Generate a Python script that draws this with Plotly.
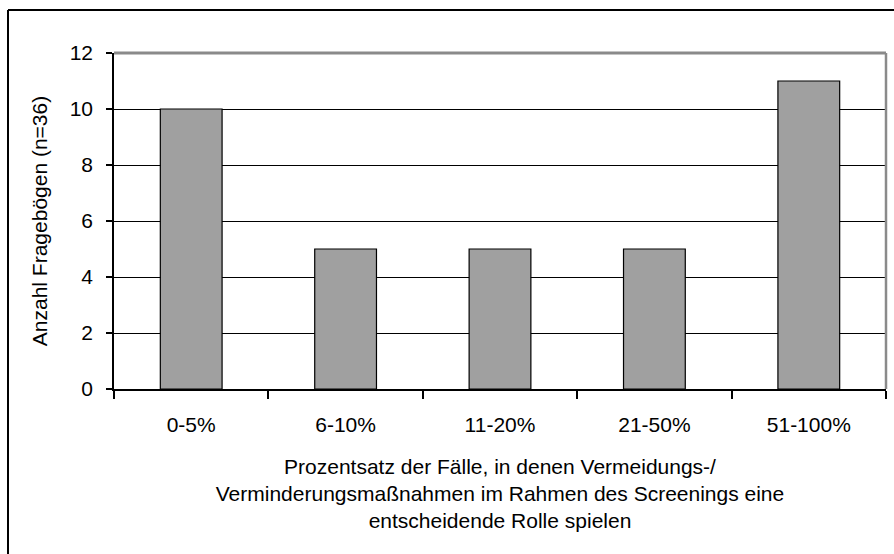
import plotly.graph_objects as go

categories = ["0-5%", "6-10%", "11-20%", "21-50%", "51-100%"]
counts = [10, 5, 5, 5, 11]
y_ticks = [0, 2, 4, 6, 8, 10, 12]
x_title = ("Prozentsatz der Fälle, in denen Vermeidungs-/<br>"
           "Verminderungsmaßnahmen im Rahmen des Screenings eine<br>"
           "entscheidende Rolle spielen")
y_title = "Anzahl Fragebögen (n=36)"

FONT = "Liberation Sans, Arial, sans-serif"
L, R, T, B = 114, 8, 53, 165
W, H = 894, 554
pw, ph = W - L - R, H - T - B

fig = go.Figure(go.Bar(
    x=categories, y=counts, width=0.4,
    marker=dict(color="#a0a0a0", line=dict(color="black", width=1.2)),
))

fig.update_layout(
    width=W, height=H,
    margin=dict(l=L, r=R, t=T, b=B, pad=0),
    paper_bgcolor="white", plot_bgcolor="white",
    font=dict(family=FONT, size=21, color="black"),
    showlegend=False,
)
fig.update_xaxes(
    type="category", tickson="boundaries", ticks="outside", ticklen=8,
    tickwidth=1.5, tickcolor="black", showline=True, linecolor="black",
    linewidth=1.5, showgrid=False, tickfont=dict(size=21),
    ticklabelstandoff=16,
    title=dict(text=x_title, font=dict(size=21), standoff=24),
)
fig.update_yaxes(
    range=[0, 12], tickvals=y_ticks, ticks="outside", ticklen=6,
    tickwidth=1.5, tickcolor="black", showline=True, linecolor="black",
    linewidth=1.5, showgrid=True, gridcolor="black", gridwidth=1,
    zeroline=False, tickfont=dict(size=21), ticklabelstandoff=9,
    title=dict(text=y_title, font=dict(size=21), standoff=16),
)

# plot-area border (grey, top and right)
fig.add_shape(type="line", xref="paper", yref="paper", x0=0, x1=1, y0=1, y1=1,
              line=dict(color="#8a8a8a", width=3), layer="above")
fig.add_shape(type="line", xref="paper", yref="paper", x0=1, x1=1, y0=0, y1=1,
              line=dict(color="#8a8a8a", width=2.5), layer="above")

# outer chart frame (top and left visible)
fx = (8 - L) / pw
fy = (H - B - 10) / ph
fb = (H - B - H - 5) / ph
fr = (W + 5 - L) / pw
fig.add_shape(type="line", xref="paper", yref="paper", x0=fx, x1=fr, y0=fy, y1=fy,
              line=dict(color="black", width=2))
fig.add_shape(type="line", xref="paper", yref="paper", x0=fx, x1=fx, y0=fb, y1=fy,
              line=dict(color="black", width=2))

fig.write_html(
    "out.html",
    config={"displayModeBar": False},
    post_script="document.body.style.margin='0';document.body.style.overflow='hidden';",
)
